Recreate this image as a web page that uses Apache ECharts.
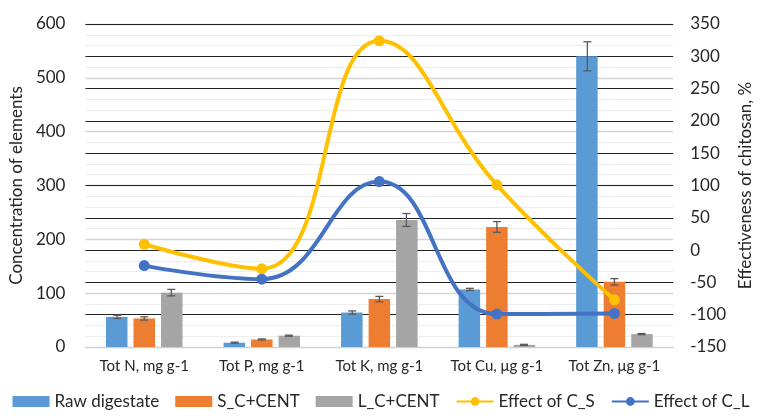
<!DOCTYPE html>
<html><head><meta charset="utf-8">
<script src="https://cdn.jsdelivr.net/npm/echarts@6/dist/echarts.min.js"></script>
<style>html,body{margin:0;padding:0;background:#fff}#c{width:762px;height:419px}</style>
</head><body><div id="c"></div>
<script>
const categories = ['Tot N, mg g-1','Tot P, mg g-1','Tot K, mg g-1','Tot Cu, μg g-1','Tot Zn, μg g-1'];
const rawDigestate = [56, 8, 64, 107, 540];
const sCent = [53, 14, 89, 223, 121];
const lCent = [101, 21, 236, 4, 24];
const rawErr = [3, 1, 3, 2, 27];
const sErr = [3, 1, 5, 10, 6];
const lErr = [6, 1, 12, 1, 1];
const effectCS = [9, -29, 324, 101, -77];
const effectCL = [-24, -45, 106, -99, -98];
const leftTicks = [0, 600, 100];
const rightTicks = [-150, 350, 50];

const FONT = 'Lato';
const chart = echarts.init(document.getElementById('c'));

function errSeries(vals, errs, idx) {
  return {
    type: 'custom', yAxisIndex: 0, silent: true, z: 5,
    data: vals.map((v, i) => [i, v, errs[i]]),
    renderItem: function (params, api) {
      const band = api.size([1, 0])[0];
      const off = (idx - 1) * band * 0.2303;
      const c = api.coord([api.value(0), api.value(1)]);
      const x = c[0] + off;
      const hi = api.coord([api.value(0), api.value(1) + api.value(2)])[1];
      const lo = api.coord([api.value(0), api.value(1) - api.value(2)])[1];
      const st = { stroke: '#595959', lineWidth: 1.3 };
      return { type: 'group', children: [
        { type: 'line', shape: { x1: x, y1: hi, x2: x, y2: lo }, style: st },
        { type: 'line', shape: { x1: x - 4, y1: hi, x2: x + 4, y2: hi }, style: st },
        { type: 'line', shape: { x1: x - 4, y1: lo, x2: x + 4, y2: lo }, style: st }
      ]};
    }
  };
}

chart.setOption({
  animation: false,
  textStyle: { fontFamily: FONT },
  grid: { left: 83, right: 82, top: 24, bottom: 72 },
  legend: {
    bottom: 4, left: 'center', itemWidth: 37, itemHeight: 11, itemGap: 16,
    textStyle: { fontSize: 17, color: '#262626', fontFamily: FONT },
    data: [
      { name: 'Raw digestate', icon: 'rect' },
      { name: 'S_C+CENT', icon: 'rect' },
      { name: 'L_C+CENT', icon: 'rect' },
      { name: 'Effect of C_S' },
      { name: 'Effect of C_L' }
    ]
  },
  xAxis: {
    type: 'category', data: categories,
    axisLine: { lineStyle: { color: '#d0d0d0' } },
    axisTick: { show: false },
    axisLabel: { color: '#262626', fontSize: 15, margin: 12, interval: 0, hideOverlap: false }
  },
  yAxis: [
    {
      type: 'value', min: leftTicks[0], max: leftTicks[1], interval: leftTicks[2],
      name: 'Concentration of elements', nameLocation: 'middle', nameGap: 56,
      nameTextStyle: { fontSize: 17, color: '#262626' },
      axisLabel: { fontSize: 17, color: '#262626', margin: 20 },
      axisLine: { show: false }, axisTick: { show: false },
      splitLine: { lineStyle: { color: '#d4d4d4', width: 1.3 } },
      minorTick: { show: false, splitNumber: 5 },
      minorSplitLine: { show: true, lineStyle: { color: '#eeeeee', width: 1 } }
    },
    {
      type: 'value', min: rightTicks[0], max: rightTicks[1], interval: rightTicks[2],
      name: 'Effectiveness of chitosan, %', nameLocation: 'middle', nameGap: 56,
      nameRotate: 90,
      nameTextStyle: { fontSize: 17, color: '#262626' },
      axisLabel: { fontSize: 17, color: '#262626', margin: 17 },
      axisLine: { show: false }, axisTick: { show: false },
      splitLine: { show: true, lineStyle: { color: '#222', width: 1.2 } }
    }
  ],
  series: [
    { name: 'Raw digestate', type: 'bar', data: rawDigestate, barWidth: 21.5, barGap: '28%',
      itemStyle: { color: '#5B9BD5' }, z: 2 },
    { name: 'S_C+CENT', type: 'bar', data: sCent, barWidth: 21.5, barGap: '28%',
      itemStyle: { color: '#ED7D31' }, z: 2 },
    { name: 'L_C+CENT', type: 'bar', data: lCent, barWidth: 21.5, barGap: '28%',
      itemStyle: { color: '#A5A5A5' }, z: 2 },
    errSeries(rawDigestate, rawErr, 0),
    errSeries(sCent, sErr, 1),
    errSeries(lCent, lErr, 2),
    { name: 'Effect of C_S', type: 'line', yAxisIndex: 1, data: effectCS, smooth: 0.45,
      symbol: 'circle', symbolSize: 11, lineStyle: { color: '#FFC000', width: 4 },
      itemStyle: { color: '#FFC000' }, z: 10 },
    { name: 'Effect of C_L', type: 'line', yAxisIndex: 1, data: effectCL, smooth: 0.45,
      symbol: 'circle', symbolSize: 11, lineStyle: { color: '#4472C4', width: 4 },
      itemStyle: { color: '#4472C4' }, z: 11 }
  ]
});
</script></body></html>
